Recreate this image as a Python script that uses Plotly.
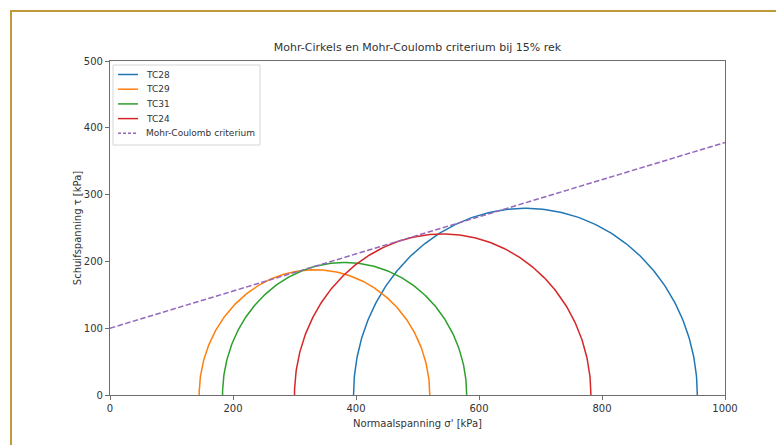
import numpy as np
import plotly.graph_objects as go

# Data
series_names = ["TC28", "TC29", "TC31", "TC24"]
sigma3 = [396, 145, 183, 300]      # kPa, minor principal stress
sigma1 = [955, 520, 580, 782]      # kPa, major principal stress
colors = ["#1f77b4", "#ff7f0e", "#2ca02c", "#d62728"]

mc_name = "Mohr-Coulomb criterium"
mc_sigma = [0, 1000]
mc_tau = [100, 378]
mc_color = "#9467bd"

x_ticks = [0, 200, 400, 600, 800, 1000]
y_ticks = [0, 100, 200, 300, 400, 500]

W, H = 776, 445
ML, MR, MT, MB = 110, 51, 61, 50
font = "DejaVu Sans, sans-serif"

fig = go.Figure()
theta = np.linspace(0, np.pi, 240)
for name, s3, s1, c in zip(series_names, sigma3, sigma1, colors):
    centre = (s1 + s3) / 2
    radius = (s1 - s3) / 2
    fig.add_trace(go.Scatter(
        x=centre + radius * np.cos(theta),
        y=radius * np.sin(theta),
        mode="lines", name=name,
        line=dict(color=c, width=1.5), showlegend=False,
    ))

fig.add_trace(go.Scatter(
    x=mc_sigma, y=mc_tau, mode="lines", name=mc_name,
    line=dict(color=mc_color, width=1.5, dash="5.5px,2.4px"), showlegend=False,
))

axis_common = dict(
    showgrid=False, zeroline=False, showline=True, mirror=True,
    linecolor="#6e6e6e", linewidth=1.2,
    ticks="outside", ticklen=4, tickcolor="#6e6e6e", tickwidth=1,
    tickfont=dict(family=font, size=10, color="#333"),
)

fig.update_layout(
    width=W, height=H,
    margin=dict(l=ML, r=MR, t=MT, b=MB),
    paper_bgcolor="white", plot_bgcolor="white",
    font=dict(family=font, color="#333"),
    title=dict(text="Mohr-Cirkels en Mohr-Coulomb criterium bij 15% rek",
               x=(ML + (W - MR)) / 2 / W, xanchor="center",
               y=1 - 47 / H, yanchor="middle",
               font=dict(family=font, size=11, color="#333")),
    xaxis=dict(range=[0, 1000], tickvals=x_ticks,
               title=dict(text="Normaalspanning σ' [kPa]", standoff=6,
                          font=dict(family=font, size=10, color="#333")),
               **axis_common),
    yaxis=dict(range=[0, 500], tickvals=y_ticks,
               title=dict(text="Schuifspanning τ [kPa]", standoff=0,
                          font=dict(family=font, size=10, color="#333")),
               **axis_common),
    showlegend=False,
)

pw = W - ML - MR
ph = H - MT - MB
def px_x(px):
    return (px - ML) / pw
def px_y(py):
    return (H - MB - py) / ph

# legend box (matplotlib style)
fig.add_shape(type="rect", xref="paper", yref="paper",
              x0=px_x(113), x1=px_x(260), y0=px_y(145), y1=px_y(65),
              line=dict(color="#d6d6d6", width=1),
              fillcolor="rgba(255,255,255,0.85)", layer="above")
leg_names = series_names + [mc_name]
leg_colors = colors + [mc_color]
leg_dash = ["solid"] * len(series_names) + ["dash"]
for i, (n, c, d) in enumerate(zip(leg_names, leg_colors, leg_dash)):
    yy = 74.5 + i * 14.7
    fig.add_shape(type="line", xref="paper", yref="paper",
                  x0=px_x(118), x1=px_x(138), y0=px_y(yy), y1=px_y(yy),
                  line=dict(color=c, width=1.5, dash="3px,2px" if d == "dash" else "solid"),
                  layer="above")
    fig.add_annotation(xref="paper", yref="paper", x=px_x(144), y=px_y(yy),
                       xanchor="left", yanchor="middle", showarrow=False,
                       text=n, font=dict(family=font, size=9, color="#333"))

# gold frame around the figure (top and left edges visible)
fig.add_shape(type="rect", xref="paper", yref="paper",
              x0=px_x(11), x1=px_x(W + 20),
              y0=px_y(H + 20), y1=px_y(11),
              line=dict(color="#bf9a38", width=2), fillcolor="rgba(0,0,0,0)",
              layer="above")

fig.write_html("out.html", config={"displayModeBar": False},
               post_script="document.body.style.margin='0';")
